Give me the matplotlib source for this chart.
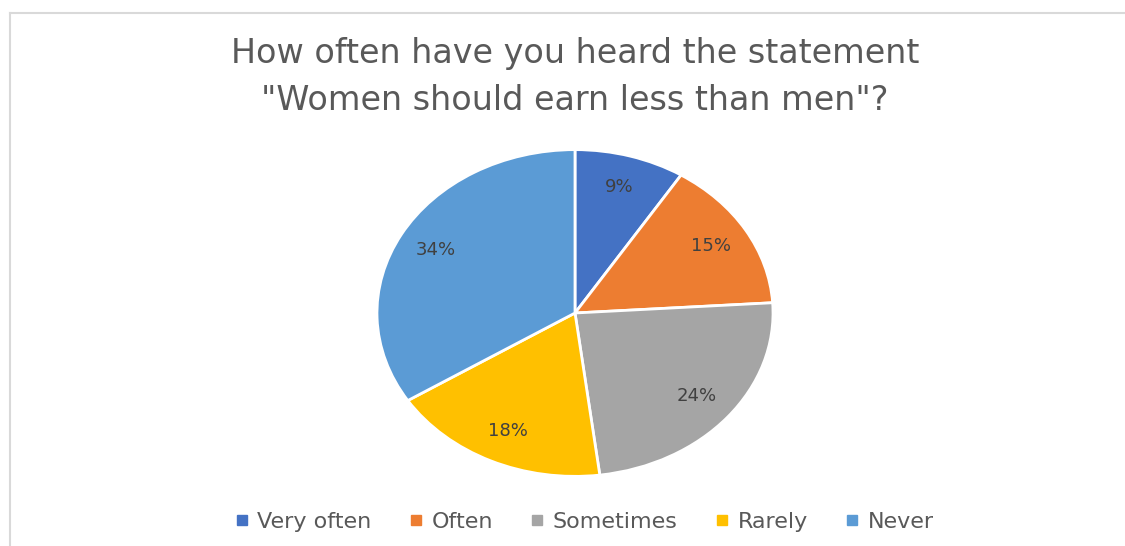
import matplotlib.pyplot as plt
from matplotlib.lines import Line2D

# Survey answers and their shares (percent)
categories = ['Very often', 'Often', 'Sometimes', 'Rarely', 'Never']
shares = [9, 15, 24, 18, 34]
colors = ['#4472C4', '#ED7D31', '#A5A5A5', '#FFC000', '#5B9BD5']

title_lines = ['How often have you heard the statement',
               '"Women should earn less than men"?']

plt.rcParams['font.family'] = ['DejaVu Sans']

W, H = 1125, 546
fig = plt.figure(figsize=(W / 100, H / 100), dpi=100)

# light frame along the top and left edge
fig.add_artist(Line2D([10 / W, 10 / W], [0, 1 - 13 / H], color='#d9d9d9', lw=1.5))
fig.add_artist(Line2D([10 / W, 1], [1 - 13 / H, 1 - 13 / H], color='#d9d9d9', lw=1.5))

# pie is drawn as an ellipse (wider than tall)
cx, cy, rx, ry = 575, 313, 200, 165
ax = fig.add_axes([(cx - rx) / W, (H - cy - ry) / H, 2 * rx / W, 2 * ry / H])
wedges, texts, autotexts = ax.pie(
    shares, colors=colors, startangle=90, counterclock=False,
    autopct='%.0f%%', pctdistance=0.8,
    wedgeprops=dict(edgecolor='white', linewidth=2),
    textprops=dict(color='#404040', fontsize=13))
ax.set_aspect('auto')
ax.set_xlim(-1.01, 1.01)
ax.set_ylim(-1.01, 1.01)
ax.axis('off')

fig.text(cx / W, 1 - 53 / H, title_lines[0], ha='center', va='center',
         fontsize=24, color='#595959')
fig.text(cx / W, 1 - 101 / H, title_lines[1], ha='center', va='center',
         fontsize=24, color='#595959')

handles = [Line2D([], [], marker='s', linestyle='none', markersize=7,
                  markerfacecolor=c, markeredgecolor=c) for c in colors]
fig.legend(handles, categories, loc='center', bbox_to_anchor=(584 / W, 1 - 522 / H),
           ncol=5, frameon=False, fontsize=16, labelcolor='#595959',
           handletextpad=0.35, columnspacing=1.65, handlelength=0.7)

plt.savefig('out.png', dpi=100)
